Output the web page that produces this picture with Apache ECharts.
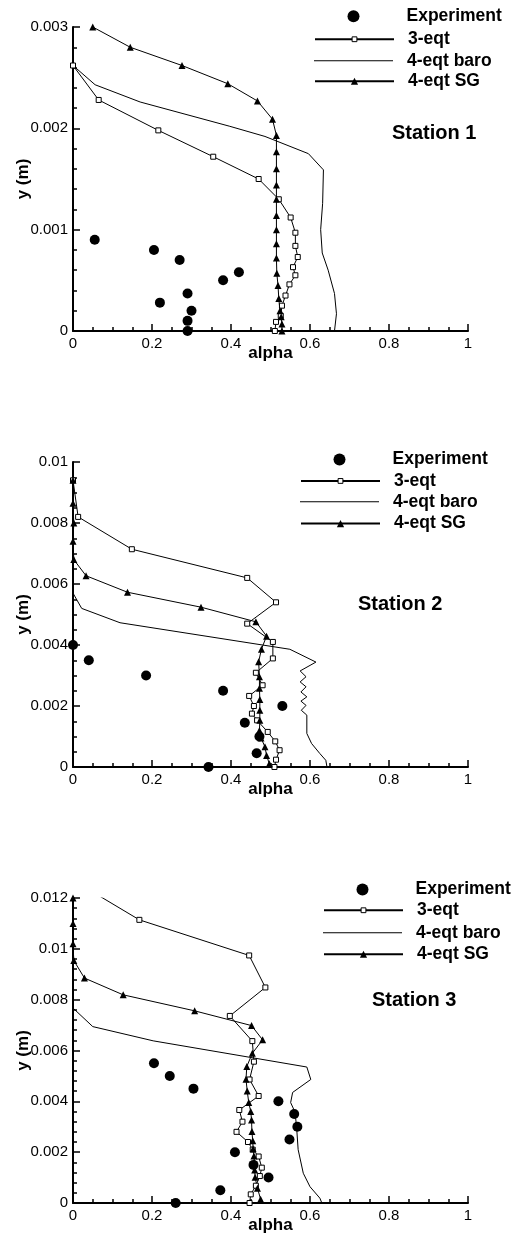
<!DOCTYPE html>
<html>
<head>
<meta charset="utf-8">
<script src="https://cdn.jsdelivr.net/npm/echarts@6/dist/echarts.min.js"></script>
<style>
  html, body { margin: 0; padding: 0; background: #fff; }
  #chart { width: 511px; height: 1237px; }
</style>
</head>
<body>
<div id="chart"></div>
<script>
// ---------------- data (alpha, y [m]) ----------------
const seriesNames = ['Experiment', '3-eqt', '4-eqt baro', '4-eqt SG'];
const stationTitles = ['Station 1', 'Station 2', 'Station 3'];
const yMax = [0.003, 0.01, 0.012];
const yInterval = [0.001, 0.002, 0.002];
const yMinorSplit = [5, 4, 5];

// Station 1
const exp1 = [[0.055,0.0009],[0.205,0.0008],[0.27,0.0007],[0.42,0.00058],[0.38,0.0005],[0.29,0.00037],[0.22,0.00028],[0.30,0.0002],[0.29,0.0001],[0.29,0.0]];
const eqt3_1 = [[0.0,0.00262],[0.065,0.00228],[0.216,0.00198],[0.355,0.00172],[0.47,0.0015],[0.521,0.0013],[0.551,0.00112],[0.563,0.00097],[0.563,0.00084],[0.569,0.00073],[0.557,0.00063],[0.563,0.00055],[0.548,0.00046],[0.538,0.00035],[0.529,0.00025],[0.526,0.00015],[0.514,0.00009],[0.511,0.0]];
const baro1 = [[0.0,0.00262],[0.056,0.00243],[0.17,0.00226],[0.397,0.00202],[0.486,0.00192],[0.596,0.00175],[0.634,0.00159],[0.632,0.00126],[0.627,0.001],[0.631,0.00077],[0.646,0.0006],[0.662,0.00037],[0.667,0.00017],[0.662,0.0]];
const sg1 = [[0.05,0.003],[0.145,0.0028],[0.276,0.00262],[0.392,0.00244],[0.467,0.00227],[0.505,0.00209],[0.515,0.00193],[0.515,0.00177],[0.515,0.0016],[0.515,0.00144],[0.515,0.0013],[0.515,0.00114],[0.515,0.001],[0.515,0.00086],[0.515,0.00072],[0.516,0.00057],[0.519,0.00045],[0.521,0.00032],[0.524,0.0002],[0.527,0.00014],[0.529,0.00007],[0.529,0.0]];

// Station 2
const exp2 = [[0.0,0.004],[0.04,0.0035],[0.185,0.003],[0.38,0.0025],[0.53,0.002],[0.435,0.00145],[0.472,0.001],[0.465,0.00045],[0.343,0.0]];
const eqt3_2 = [[0.0,0.0094],[0.013,0.0082],[0.149,0.00714],[0.441,0.0062],[0.514,0.0054],[0.441,0.0047],[0.506,0.0041],[0.506,0.00356],[0.463,0.00309],[0.48,0.00268],[0.446,0.00233],[0.458,0.002],[0.453,0.00175],[0.466,0.00153],[0.493,0.00115],[0.512,0.00084],[0.523,0.00055],[0.514,0.00024],[0.51,0.0]];
const baro2 = [[0.0,0.0057],[0.022,0.0052],[0.119,0.00473],[0.549,0.00386],[0.615,0.00344],[0.575,0.00315],[0.59,0.00296],[0.575,0.00279],[0.59,0.00263],[0.577,0.00246],[0.592,0.0023],[0.577,0.00216],[0.59,0.00202],[0.578,0.00186],[0.592,0.0017],[0.592,0.0011],[0.604,0.00077],[0.625,0.00044],[0.64,0.00022],[0.643,0.0]];
const sg2 = [[0.0,0.0094],[0.0,0.00865],[0.002,0.008],[0.0,0.0074],[0.002,0.0068],[0.033,0.00627],[0.138,0.00573],[0.324,0.00524],[0.463,0.00476],[0.49,0.00429],[0.477,0.00386],[0.47,0.00345],[0.472,0.00296],[0.472,0.00258],[0.473,0.00221],[0.473,0.00186],[0.473,0.00153],[0.472,0.0012],[0.476,0.00095],[0.486,0.00066],[0.49,0.00038],[0.497,0.00011]];

// Station 3
const exp3 = [[0.205,0.0055],[0.245,0.005],[0.305,0.0045],[0.52,0.004],[0.56,0.0035],[0.568,0.003],[0.548,0.0025],[0.41,0.002],[0.457,0.0015],[0.495,0.001],[0.373,0.0005],[0.26,0.0]];
const eqt3_3 = [[0.0,0.0127],[0.168,0.01114],[0.446,0.00974],[0.487,0.00848],[0.397,0.00736],[0.454,0.00637],[0.458,0.00556],[0.447,0.00486],[0.47,0.00421],[0.421,0.00366],[0.429,0.0032],[0.414,0.0028],[0.443,0.0024],[0.455,0.0021],[0.47,0.00183],[0.478,0.00139],[0.473,0.00106],[0.463,0.00068],[0.45,0.00034],[0.447,0.0]];
const baro3 = [[0.0,0.00767],[0.05,0.00694],[0.203,0.00638],[0.592,0.00535],[0.602,0.00486],[0.556,0.00435],[0.551,0.00395],[0.562,0.00358],[0.566,0.003],[0.57,0.0021],[0.583,0.00117],[0.6,0.00064],[0.625,0.00019],[0.63,0.0]];
const sg3 = [[0.0,0.012],[0.0,0.011],[0.0,0.0102],[0.002,0.00954],[0.029,0.00885],[0.127,0.00819],[0.308,0.00756],[0.452,0.00698],[0.48,0.00642],[0.454,0.00589],[0.44,0.00537],[0.438,0.00487],[0.441,0.00441],[0.445,0.00395],[0.45,0.0036],[0.452,0.00327],[0.453,0.00281],[0.455,0.00245],[0.456,0.00213],[0.458,0.00185],[0.459,0.00159],[0.46,0.0013],[0.461,0.00101],[0.467,0.00058],[0.475,0.00015]];

const panels = [
  { exp: exp1, eqt3: eqt3_1, baro: baro1, sg: sg1 },
  { exp: exp2, eqt3: eqt3_2, baro: baro2, sg: sg2 },
  { exp: exp3, eqt3: eqt3_3, baro: baro3, sg: sg3 }
];

// ---------------- layout ----------------
const FONT = '"Liberation Sans", Arial, Helvetica, sans-serif';
const gridBoxes = [
  { left: 73, top: 27, width: 395, height: 304 },
  { left: 73, top: 462, width: 395, height: 305 },
  { left: 73, top: 898, width: 395, height: 305 }
];
// x = left end of legend line, rows = vertical centres of the 4 entries
const legendPos = [
  { x: 314, rows: [16, 39, 60.5, 81] },
  { x: 300, rows: [459.3, 480.7, 501.5, 523.3] },
  { x: 323, rows: [889.3, 910, 932.5, 954] }
];
const titlePos = [
  { left: 392, top: 123 },
  { left: 358, top: 594 },
  { left: 372, top: 990 }
];

const chart = echarts.init(document.getElementById('chart'), null, { renderer: 'canvas' });

const grid = gridBoxes.map(g => Object.assign({ containLabel: false, outerBoundsMode: 'none' }, g));

const axisLineStyle = { color: '#000', width: 2 };
const tickStyle = { color: '#000', width: 1.5 };

const xAxis = gridBoxes.map((g, i) => ({
  type: 'value', gridIndex: i, min: 0, max: 1, interval: 0.2,
  name: 'alpha', nameLocation: 'middle', nameGap: 14, nameMoveOverlap: false,
  nameTextStyle: { fontWeight: 'bold', fontSize: 17, color: '#000', fontFamily: FONT },
  axisLine: { show: true, onZero: false, lineStyle: axisLineStyle },
  axisTick: { show: true, inside: true, length: 7, lineStyle: tickStyle },
  minorTick: { show: true, splitNumber: 4, length: 4, lineStyle: tickStyle },
  axisLabel: { fontSize: 15, color: '#000', margin: 5, fontFamily: FONT },
  splitLine: { show: false }, minorSplitLine: { show: false }
}));

const yAxis = gridBoxes.map((g, i) => ({
  type: 'value', gridIndex: i, min: 0, max: yMax[i], interval: yInterval[i],
  name: 'y (m)', nameLocation: 'middle', nameGap: 41, nameRotate: 90, nameMoveOverlap: false,
  nameTextStyle: { fontWeight: 'bold', fontSize: 17, color: '#000', fontFamily: FONT },
  axisLine: { show: true, onZero: false, lineStyle: axisLineStyle },
  axisTick: { show: true, inside: true, length: 7, lineStyle: tickStyle },
  minorTick: { show: true, splitNumber: yMinorSplit[i], length: 4, lineStyle: tickStyle },
  axisLabel: { fontSize: 15, color: '#000', margin: 5, fontFamily: FONT },
  splitLine: { show: false }, minorSplitLine: { show: false }
}));

const series = [];
panels.forEach((p, i) => {
  series.push({
    name: '3-eqt', type: 'line', xAxisIndex: i, yAxisIndex: i, data: p.eqt3,
    symbol: 'rect', symbolSize: 5, showSymbol: true, clip: true,
    itemStyle: { color: '#fff', borderColor: '#000', borderWidth: 1, opacity: 1 },
    lineStyle: { color: '#000', width: 1 }, z: 2, silent: true
  });
  series.push({
    name: '4-eqt baro', type: 'line', xAxisIndex: i, yAxisIndex: i, data: p.baro,
    symbol: 'none', clip: true,
    itemStyle: { color: '#000', opacity: 1 },
    lineStyle: { color: '#000', width: 1 }, z: 2, silent: true
  });
  series.push({
    name: '4-eqt SG', type: 'line', xAxisIndex: i, yAxisIndex: i, data: p.sg,
    symbol: 'triangle', symbolSize: 7, showSymbol: true, clip: true,
    itemStyle: { color: '#000', opacity: 1 },
    lineStyle: { color: '#000', width: 1 }, z: 2, silent: true
  });
  series.push({
    name: 'Experiment', type: 'scatter', xAxisIndex: i, yAxisIndex: i, data: p.exp,
    symbol: 'circle', symbolSize: 10, clip: false,
    itemStyle: { color: '#000', opacity: 1 }, z: 3, silent: true
  });
});

const LEG_TEXT_HALF = 8.75;
const legendSpec = [
  { name: 'Experiment', h: 12, w: 12, pad: 42, dx: 33.5 },
  { name: '3-eqt', h: 6, w: 79, pad: 9, dx: 0, itemStyle: { borderWidth: 1, borderColor: '#000', color: '#fff' } },
  { name: '4-eqt baro', h: 1, w: 79, pad: 9, dx: 0, icon: 'rect', itemStyle: { color: '#000', borderWidth: 0, opacity: 1 } },
  { name: '4-eqt SG', h: 9, w: 79, pad: 9, dx: 0 }
];
const legend = [];
legendPos.forEach(lp => {
  legendSpec.forEach((s, k) => {
    const lg = {
      show: true, orient: 'horizontal', padding: 0, selectedMode: false,
      left: lp.x + s.dx, top: lp.rows[k] - LEG_TEXT_HALF,
      itemWidth: s.w, itemHeight: s.h,
      data: [s.icon ? { name: s.name, icon: s.icon } : s.name],
      textStyle: { fontSize: 17.5, fontWeight: 'bold', color: '#000', fontFamily: FONT, padding: [0, 0, 0, s.pad] }
    };
    if (s.itemStyle) lg.itemStyle = s.itemStyle;
    legend.push(lg);
  });
});

const title = stationTitles.map((t, i) => ({
  text: t, left: titlePos[i].left, top: titlePos[i].top, padding: 0,
  textStyle: { fontSize: 20, fontWeight: 'bold', color: '#000', fontFamily: FONT }
}));

chart.setOption({
  animation: false,
  backgroundColor: '#fff',
  grid, xAxis, yAxis, series, legend, title,
  tooltip: { show: false }
});
</script>
</body>
</html>
